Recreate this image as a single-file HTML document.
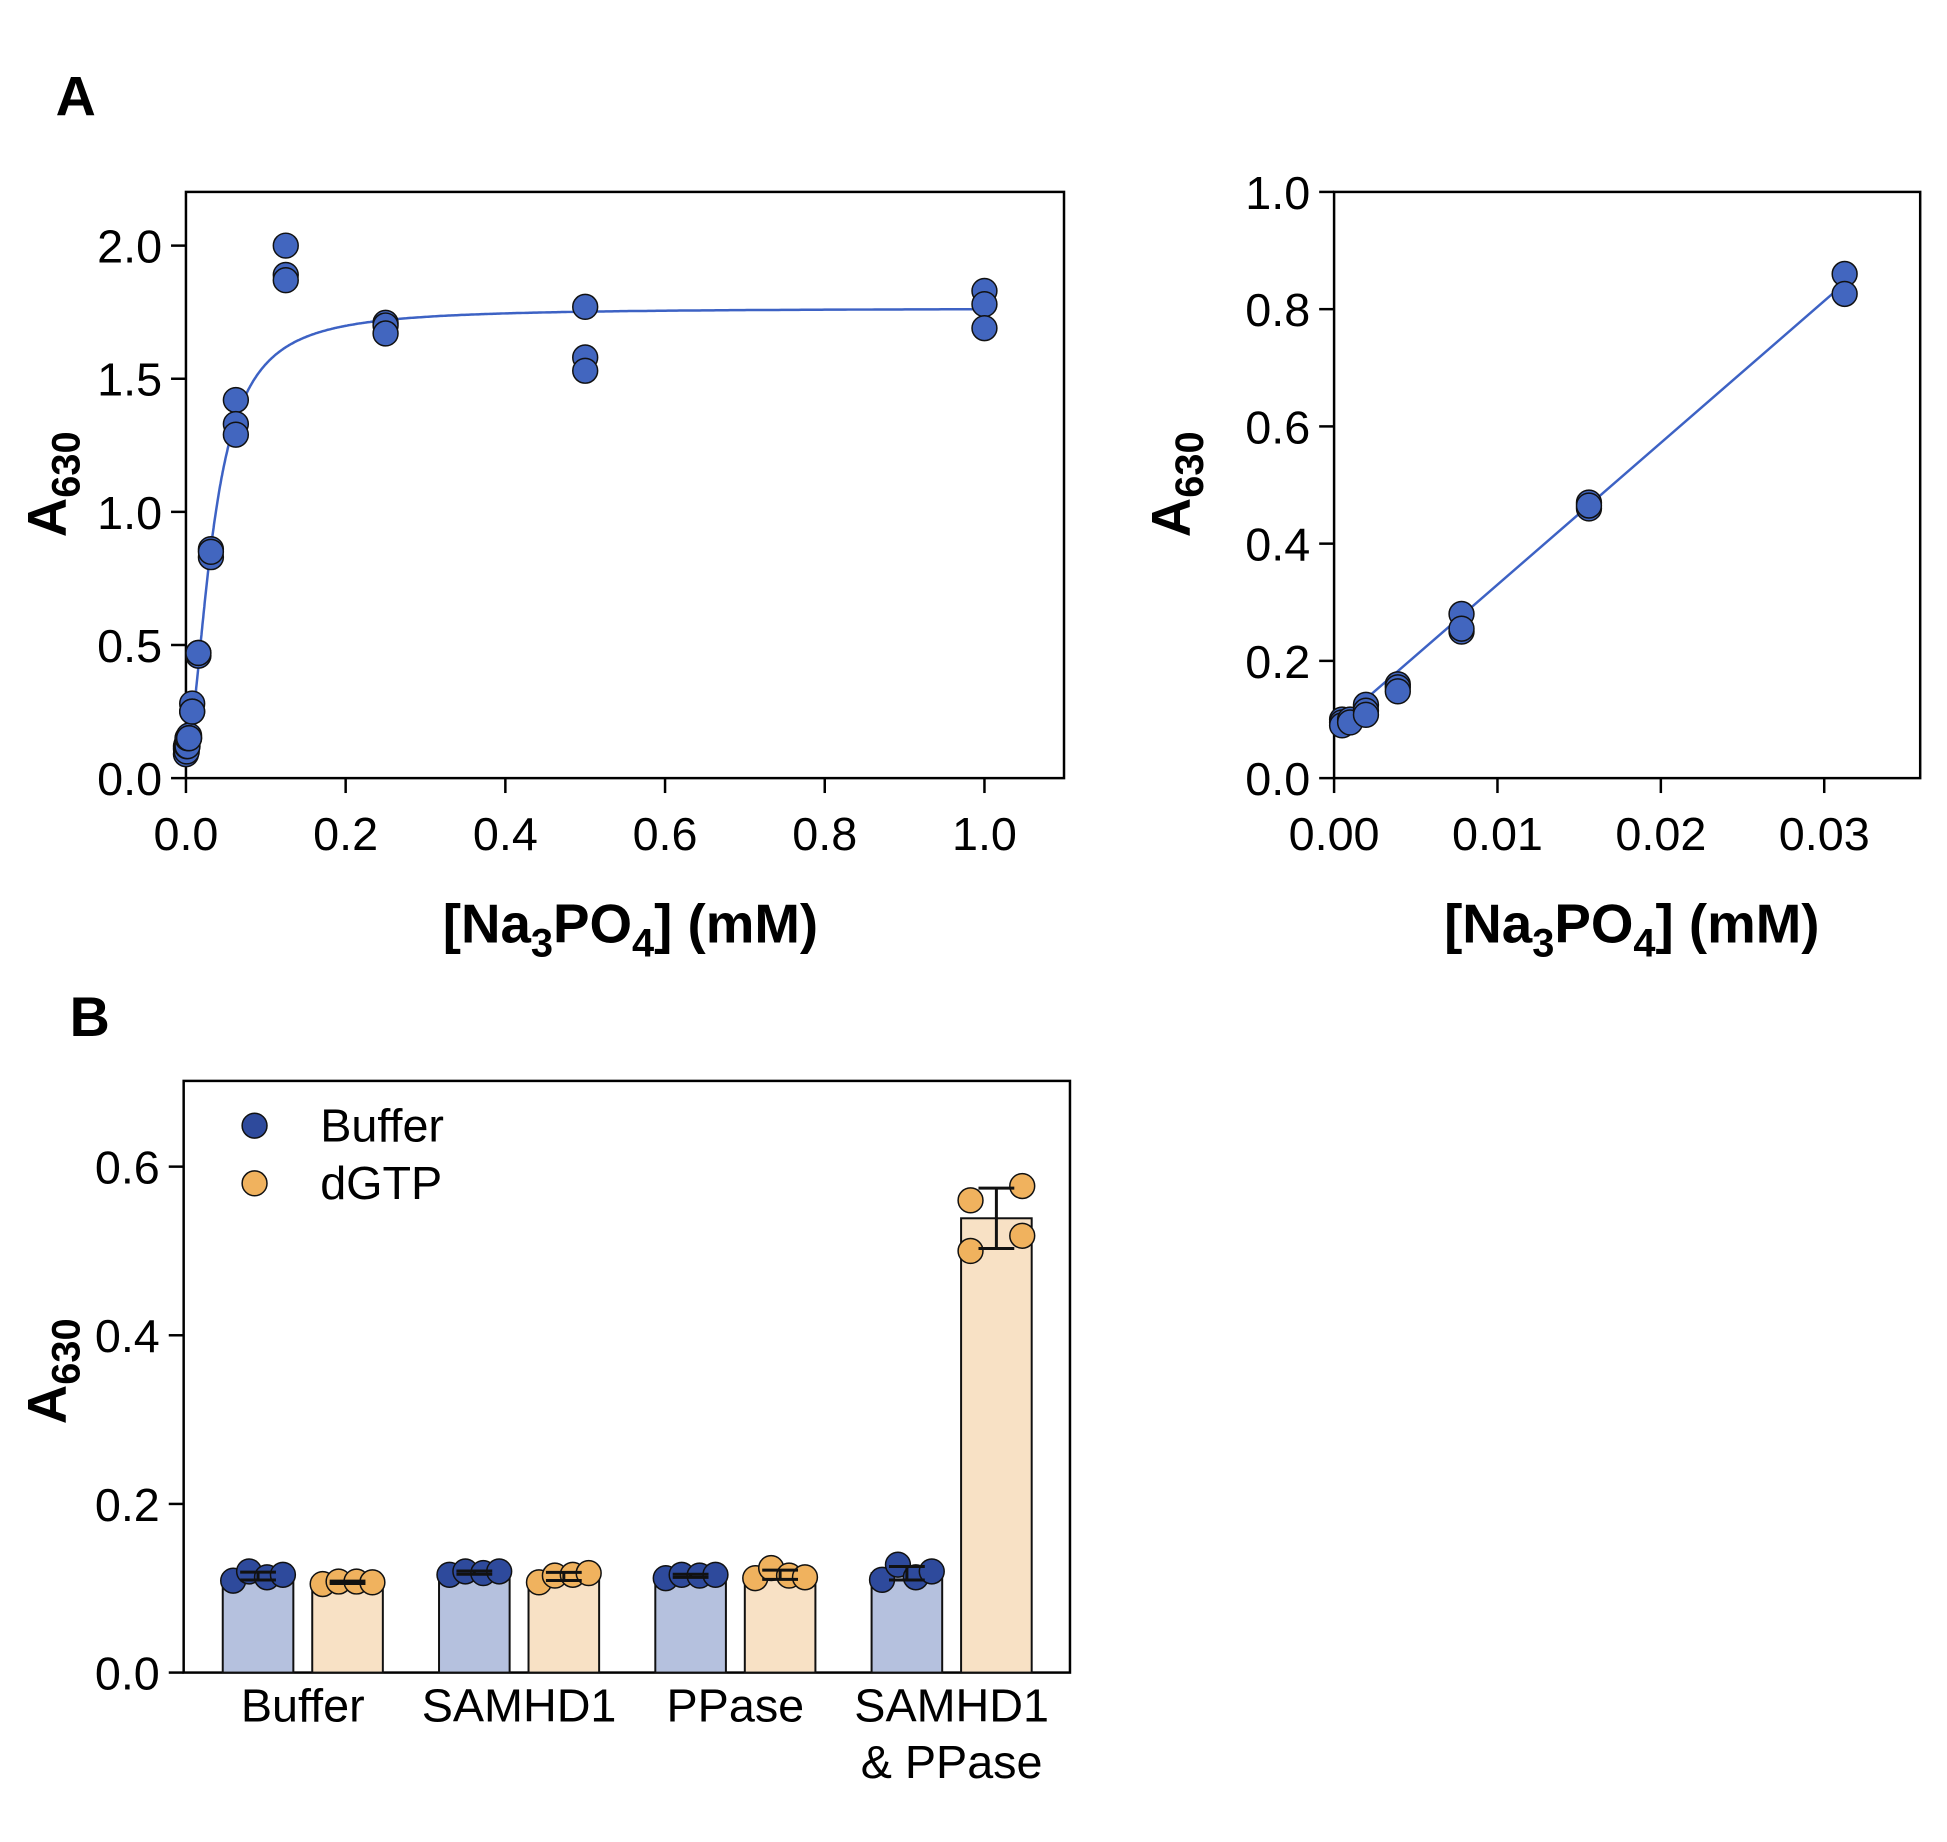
<!DOCTYPE html>
<html><head><meta charset="utf-8"><style>
html,body{margin:0;padding:0;background:#fff}
svg{display:block;font-family:"Liberation Sans",Arial,sans-serif}
</style></head><body>
<svg id="fig" xmlns="http://www.w3.org/2000/svg" width="1947" height="1842" viewBox="0 0 1947 1842">
<g transform="scale(0.9944)">
<text x="56" y="116" font-size="56" font-weight="bold">A</text>
<text x="70" y="1042" font-size="56" font-weight="bold">B</text>
<g id="pA1"></g>
<g id="pA2"></g>
<g id="pB"></g>
</g>
</svg>
<script>
// Panel A (left) data
const a1X = [0,0,0, 0.00098,0.00098,0.00098, 0.00195,0.00195,0.00195, 0.0039,0.0039,0.0039, 0.0078,0.0078,0.0078, 0.0156,0.0156,0.0156, 0.03125,0.03125,0.03125, 0.0625,0.0625,0.0625, 0.125,0.125,0.125, 0.25,0.25,0.25, 0.5,0.5,0.5, 1,1,1];
const a1Y = [0.09,0.11,0.12, 0.10,0.12,0.13, 0.13,0.12,0.15, 0.16,0.15,0.15, 0.28,0.25,0.25, 0.46,0.47,0.47, 0.86,0.83,0.85, 1.42,1.33,1.29, 2.0,1.89,1.87, 1.71,1.70,1.67, 1.77,1.58,1.53, 1.83,1.78,1.69];
const a1FitParams = [0.09, 1.765, 0.034, 1.8]; // bottom, top, K, hill
const a1XTicks = [0,0.2,0.4,0.6,0.8,1.0];
const a1YTicks = [0,0.5,1.0,1.5,2.0];
// Panel A (right) data
const a2X = [0.00049,0.00049,0.00049, 0.00098,0.00098, 0.00195,0.00195,0.00195, 0.0039,0.0039,0.0039, 0.0078,0.0078,0.0078, 0.0156,0.0156,0.0156, 0.03125,0.03125];
const a2Y = [0.10,0.095,0.09, 0.10,0.095, 0.125,0.115,0.108, 0.16,0.155,0.148, 0.28,0.25,0.255, 0.47,0.46,0.465, 0.86,0.826];
const a2FitParams = [0.088, 24.2]; // intercept, slope
const a2XTicks = [0,0.01,0.02,0.03];
const a2XTickLabels = ["0.00","0.01","0.02","0.03"];
const a2YTicks = [0,0.2,0.4,0.6,0.8,1.0];
// Panel B data
const bCategories = [["Buffer"],["SAMHD1"],["PPase"],["SAMHD1","& PPase"]];
const bBufferPts = [[0.109,0.12,0.113,0.116],[0.116,0.12,0.118,0.12],[0.112,0.116,0.115,0.116],[0.11,0.128,0.113,0.12]];
const bDgtpPts = [[0.105,0.108,0.108,0.107],[0.107,0.115,0.116,0.118],[0.112,0.124,0.115,0.113],[0.50,0.56,0.518,0.577]];
const bYTicks = [0,0.2,0.4,0.6];
const bLegend = ["Buffer","dGTP"];

const NS="http://www.w3.org/2000/svg";
const TF=47;
function mk(parent,tag,attrs,text){const e=document.createElementNS(NS,tag);for(const k in attrs)e.setAttribute(k,attrs[k]);if(text!==undefined)e.textContent=text;parent.appendChild(e);return e;}
function ytitle(g,x,y){
  const t=mk(g,'text',{x:x,y:y,transform:`rotate(-90 ${x} ${y})`,'text-anchor':'middle','font-size':55,'font-weight':'bold'});
  
  
  mk(t,'tspan',{},'A');
  mk(t,'tspan',{'font-size':40,dy:14},'630');
}
function xtitle(g,x,y){
  const t=mk(g,'text',{x:x,y:y,'text-anchor':'middle','font-size':55,'font-weight':'bold'});
  
  
  mk(t,'tspan',{},'[Na');
  mk(t,'tspan',{'font-size':40,dy:14},'3');
  mk(t,'tspan',{dy:-14},'PO');
  mk(t,'tspan',{'font-size':40,dy:14},'4');
  mk(t,'tspan',{dy:-14},'] (mM)');
}
function frame(g,L,R,T,B){
  const f=mk(g,'rect',{x:L,y:T,width:R-L,height:B-T,fill:'none',stroke:'#000','stroke-width':2.5});
  
  
}
function dot(g,x,y,fill,name){
  const c=mk(g,'circle',{cx:x,cy:y,r:12.5,fill:fill,stroke:'#111','stroke-width':1.5});
  
  
}

// Panel A1
(function(){
  const g=document.getElementById('pA1');
  const L=187,R=1070,T=193,B=782.5;
  const sx=v=>L+v*(990-L), sy=v=>B-v*(B-247)/2;
  frame(g,L,R,T,B);
  a1YTicks.forEach(v=>{mk(g,'line',{x1:L-15,x2:L,y1:sy(v),y2:sy(v),stroke:'#000','stroke-width':2.5});
    const t=mk(g,'text',{x:L-24,y:sy(v)+17,'text-anchor':'end','font-size':TF},v.toFixed(1));
    
    });
  a1XTicks.forEach(v=>{mk(g,'line',{x1:sx(v),x2:sx(v),y1:B,y2:B+15,stroke:'#000','stroke-width':2.5});
    const t=mk(g,'text',{x:sx(v),y:855,'text-anchor':'middle','font-size':TF},v.toFixed(1));
    
    });
  const [b0,top,K,h]=a1FitParams;let d='';
  for(let i=0;i<=600;i++){const x=Math.pow(i/600,2.2)*1.0;const y=b0+(top-b0)*Math.pow(x,h)/(Math.pow(K,h)+Math.pow(x,h));d+=(i?'L':'M')+sx(x).toFixed(1)+' '+sy(y).toFixed(1);}
  const p=mk(g,'path',{d:d,fill:'none',stroke:'#3d62c4','stroke-width':2.5});
  
  
  a1X.forEach((x,i)=>dot(g,sx(x),sy(a1Y[i]),'#4266bf','data-point'));
  ytitle(g,66,487);xtitle(g,634,948);
})();

// Panel A2
(function(){
  const g=document.getElementById('pA2');
  const L=1341.6,R=1931,T=193,B=782.5;
  const sx=v=>L+v*16430, sy=v=>B-v*(B-T);
  frame(g,L,R,T,B);
  a2YTicks.forEach(v=>{mk(g,'line',{x1:L-15,x2:L,y1:sy(v),y2:sy(v),stroke:'#000','stroke-width':2.5});
    const t=mk(g,'text',{x:L-24,y:sy(v)+17,'text-anchor':'end','font-size':TF},v.toFixed(1));
    
    });
  a2XTicks.forEach((v,i)=>{mk(g,'line',{x1:sx(v),x2:sx(v),y1:B,y2:B+15,stroke:'#000','stroke-width':2.5});
    const t=mk(g,'text',{x:sx(v),y:855,'text-anchor':'middle','font-size':TF},a2XTickLabels[i]);
    
    });
  const [b0,m]=a2FitParams;const x0=Math.min(...a2X),x1=Math.max(...a2X);
  const ln=mk(g,'line',{x1:sx(x0),y1:sy(b0+m*x0),x2:sx(x1),y2:sy(b0+m*x1),stroke:'#3d62c4','stroke-width':2.5});
  
  
  a2X.forEach((x,i)=>dot(g,sx(x),sy(a2Y[i]),'#4266bf','data-point'));
  ytitle(g,1196,487);xtitle(g,1641,948);
})();

// Panel B
(function(){
  const g=document.getElementById('pB');
  const L=184.7,R=1076,T=1087,B=1682;
  const sy=v=>B-v*848;
  frame(g,L,R,T,B);
  bYTicks.forEach(v=>{mk(g,'line',{x1:L-15,x2:L,y1:sy(v),y2:sy(v),stroke:'#000','stroke-width':2.5});
    const t=mk(g,'text',{x:L-24,y:sy(v)+17,'text-anchor':'end','font-size':TF},v.toFixed(1));
    
    });
  const offs=[-25,-9,9,25];
  const mean=a=>a.reduce((s,v)=>s+v,0)/a.length;
  const sd=a=>{const m=mean(a);return Math.sqrt(a.reduce((s,v)=>s+(v-m)*(v-m),0)/(a.length-1));};
  bCategories.forEach((lab,i)=>{
    const gc=304.5+i*217.5;
    [[bBufferPts[i],-45,'#b5c1de','#2e4a9c','buffer'],[bDgtpPts[i],45,'#f8e1c5','#f0b25e','dgtp']].forEach(([pts,o,bf,df,nm])=>{
      const cx=gc+o,m=mean(pts),s=sd(pts);
      const r=mk(g,'rect',{x:cx-35.5,y:sy(m),width:71,height:B-sy(m),fill:bf,stroke:'#111','stroke-width':2});
      
      
      pts.forEach((v,j)=>{const ox=(i===3&&nm==='dgtp')?[-26,-26,26,26][j]:offs[j];dot(g,cx+ox,sy(v),df,'point-'+nm);});
      const eg=mk(g,'g',{stroke:'#111','stroke-width':3});
      
      
      mk(eg,'line',{x1:cx,x2:cx,y1:sy(m+s),y2:sy(m-s)});
      mk(eg,'line',{x1:cx-18,x2:cx+18,y1:sy(m+s),y2:sy(m+s)});
      mk(eg,'line',{x1:cx-18,x2:cx+18,y1:sy(m-s),y2:sy(m-s)});
    });
    lab.forEach((s,k)=>{const t=mk(g,'text',{x:gc,y:1731+k*57,'text-anchor':'middle','font-size':TF},s);
      
      });
  });
  [['#2e4a9c',1132],['#f0b25e',1190]].forEach(([c,y],i)=>{
    dot(g,256,y,c,'legend-marker');
    const t=mk(g,'text',{x:322,y:y+16,'font-size':TF},bLegend[i]);
    
    
  });
  ytitle(g,66,1379);
})();
</script>
</body></html>
